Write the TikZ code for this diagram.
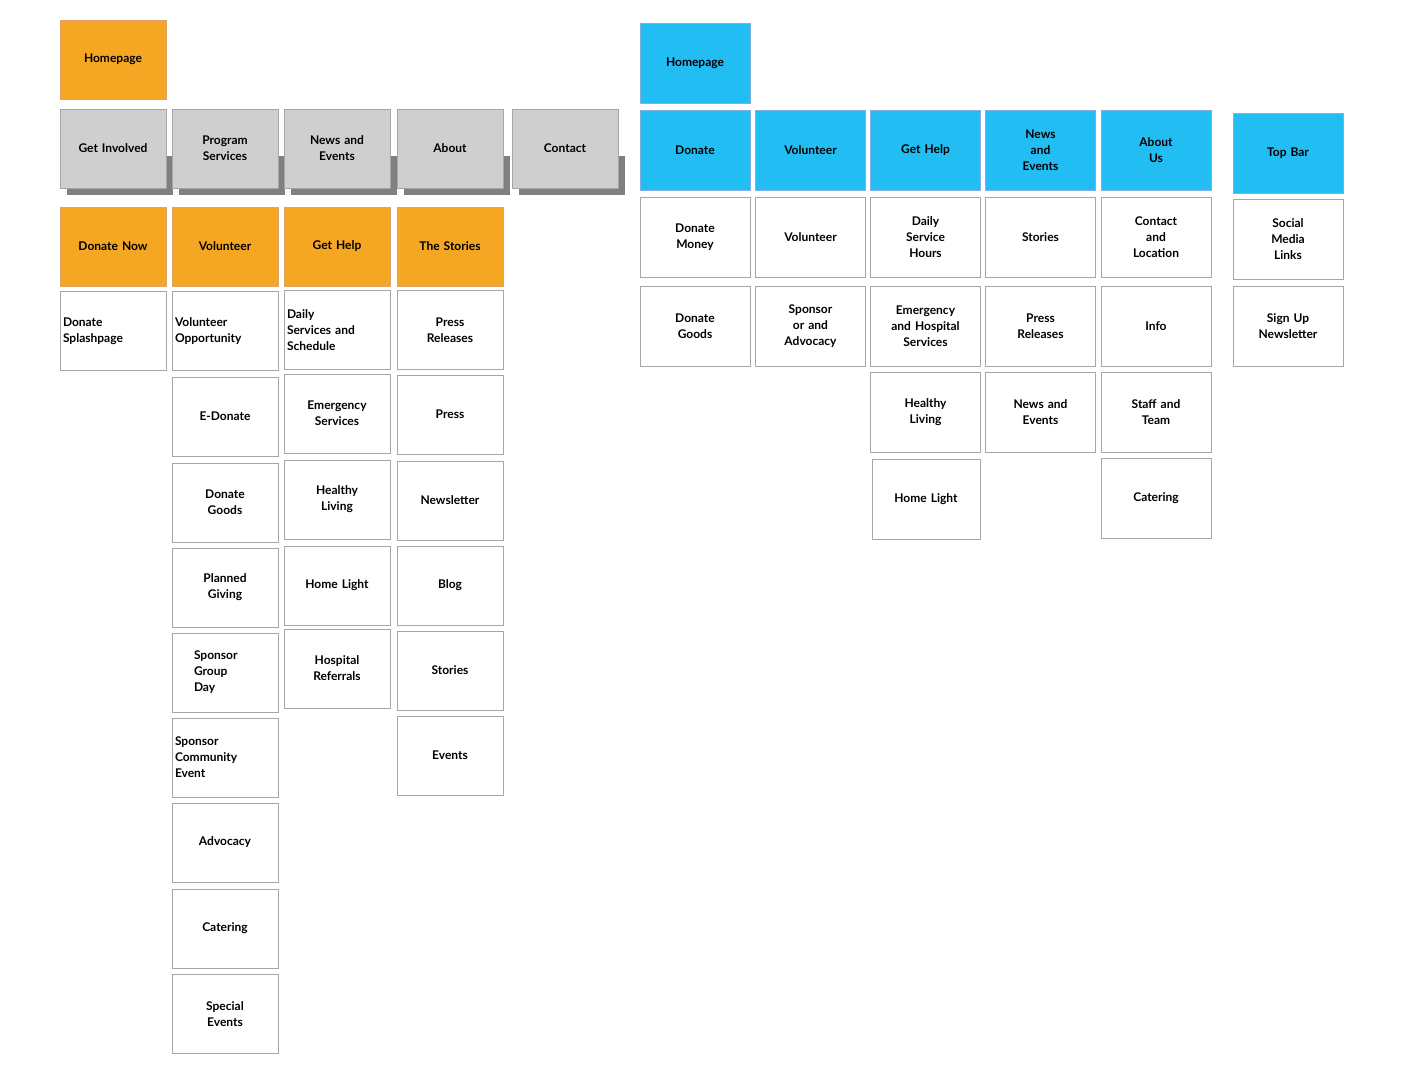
\documentclass[tikz,border=0pt]{standalone}
\usepackage{fontspec}
\setmainfont{Lato}
\begin{document}
\begin{tikzpicture}[x=1pt,y=-1pt,font=\bfseries\fontsize{12}{16}\selectfont]
    \useasboundingbox (0,0) rectangle (1408,1080);

    \tikzstyle{card}=[draw=black!35,line width=0.8pt,minimum width=106pt,minimum height=79pt,inner sep=2pt,text width=100pt,align=center]
    \tikzstyle{orange}=[card,fill=orange!85!yellow!95!black,draw=orange!80!black!60]
    \tikzstyle{grey}=[card,fill=black!19]
    \tikzstyle{white}=[card,fill=white]
    \tikzstyle{blue}=[card,fill=cyan!75!blue!55,draw=cyan!60!blue!50,minimum width=110pt,minimum height=80pt,text width=104pt]
    \tikzstyle{bwhite}=[card,fill=white,minimum width=110pt,minimum height=80pt,text width=104pt]
    \definecolor{orangeC}{HTML}{F5A623}
    \definecolor{blueC}{HTML}{22BDF2}
    \tikzset{orange/.append style={fill=orangeC},blue/.append style={fill=blueC}}

    % left sort
    \node[orange] (home) at (113,59.5) {Homepage};

    \foreach \x in {113,225,337,450,565}
        \fill[black!50] (\x-46,155.5) rectangle (\x+60,194.5);
    \node[grey] (gi) at (113,148.5) {Get Involved};
    \node[grey] (ps) at (225,148.5) {Program\\Services};
    \node[grey] (ne) at (337,148.5) {News and\\Events};
    \node[grey] (ab) at (450,148.5) {About};
    \node[grey] (co) at (565,148.5) {Contact};

    \node[orange] (dn) at (113,246.5) {Donate Now};
    \node[orange] (vo) at (225,246.5) {Volunteer};
    \node[orange] (gh) at (337,246.5) {Get Help};
    \node[orange] (ts) at (450,246.5) {The Stories};

    \node[white,align=left] (dsp) at (113,331) {Donate\\Splashpage};

    \node[white,align=left] (vop) at (225,331) {Volunteer\\Opportunity};
    \node[white] (edo) at (225,416.5) {E-Donate};
    \node[white] (dgo) at (225,502.5) {Donate\\Goods};
    \node[white] (pgi) at (225,587.5) {Planned\\Giving};
    \node[white,align=left,text width=62pt] (sgd) at (225,672.5) {Sponsor\\Group\\Day};
    \node[white,align=left] (sce) at (225,757.5) {Sponsor\\Community\\Event};
    \node[white] (adv) at (225,842.5) {Advocacy};
    \node[white] (cat) at (225,928.5) {Catering};
    \node[white] (spe) at (225,1014) {Special\\Events};

    \node[white,align=left] (dss) at (337,330) {Daily\\Services and\\Schedule};
    \node[white] (ems) at (337,413.5) {Emergency\\Services};
    \node[white] (hli) at (337,499.5) {Healthy\\Living};
    \node[white] (hol) at (337,585.5) {Home Light};
    \node[white] (hre) at (337,668.5) {Hospital\\Referrals};

    \node[white] (pre) at (450,330) {Press\\Releases};
    \node[white] (prs) at (450,414.5) {Press};
    \node[white] (nwl) at (450,500.5) {Newsletter};
    \node[white] (blg) at (450,585.5) {Blog};
    \node[white] (sto) at (450,670.5) {Stories};
    \node[white] (evt) at (450,755.5) {Events};

    % right sort
    \node[blue] (home2) at (695,63.5) {Homepage};
    \node[blue] (don2) at (695,150.5) {Donate};
    \node[blue] (vol2) at (810.5,150.5) {Volunteer};
    \node[blue] (gh2) at (925.5,150.5) {Get Help};
    \node[blue] (ne2) at (1040.5,150.5) {News\\and\\Events};
    \node[blue] (ab2) at (1156,150.5) {About\\Us};
    \node[blue] (tb2) at (1288,153.5) {Top Bar};

    \node[bwhite] (dm2) at (695,237) {Donate\\Money};
    \node[bwhite] (dg2) at (695,326) {Donate\\Goods};
    \node[bwhite] (vo2) at (810.5,237) {Volunteer};
    \node[bwhite] (sa2) at (810.5,326) {Sponsor\\or and\\Advocacy};
    \node[bwhite] (dsh2) at (925.5,237) {Daily\\Service\\Hours};
    \node[bwhite] (ehs2) at (925.5,326) {Emergency\\and Hospital\\Services};
    \node[bwhite] (hl2) at (925.5,412) {Healthy\\Living};
    \node[bwhite,minimum width=106pt] (hol2) at (926,499.5) {Home Light};
    \node[bwhite] (st2) at (1040.5,237) {Stories};
    \node[bwhite] (pr2) at (1040.5,326) {Press\\Releases};
    \node[bwhite] (ne3) at (1040.5,412) {News and\\Events};
    \node[bwhite] (cl2) at (1156,237) {Contact\\and\\Location};
    \node[bwhite] (in2) at (1156,326) {Info};
    \node[bwhite] (stt2) at (1156,412) {Staff and\\Team};
    \node[bwhite] (ca2) at (1156,498) {Catering};
    \node[bwhite] (sml2) at (1288,239) {Social\\Media\\Links};
    \node[bwhite] (sun2) at (1288,326) {Sign Up\\Newsletter};
\end{tikzpicture}
\end{document}
